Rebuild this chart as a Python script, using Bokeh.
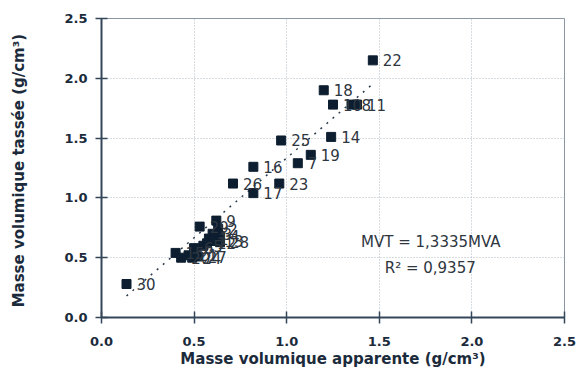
from bokeh.plotting import figure
from bokeh.models import ColumnDataSource, Label, Range1d, FixedTicker, CustomJSTickFormatter
from bokeh.core.properties import value
from bokeh.embed import file_html
from bokeh.resources import INLINE

# --- data ---
sample_ids = ["1", "2", "3", "4", "5", "6", "7", "8", "9", "10",
              "11", "12", "13", "14", "15", "16", "17", "18", "19", "20",
              "21", "22", "23", "24", "25", "26", "27", "28", "29", "30"]
mva = [0.58, 0.63, 0.60, 0.64, 0.55, 0.50, 1.06, 1.35, 0.62, 1.25,
       1.38, 0.57, 0.61, 1.24, 0.40, 0.82, 0.82, 1.20, 1.13, 0.43,
       0.47, 1.465, 0.96, 0.49, 0.97, 0.71, 0.52, 0.64, 0.53, 0.135]
mvt = [0.66, 0.74, 0.70, 0.68, 0.60, 0.58, 1.29, 1.78, 0.81, 1.78,
       1.78, 0.62, 0.64, 1.51, 0.54, 1.26, 1.04, 1.90, 1.36, 0.50,
       0.52, 2.15, 1.12, 0.50, 1.48, 1.12, 0.51, 0.63, 0.76, 0.28]
slope = 1.3335
r2_text = "0,9357"
ticks = [0.0, 0.5, 1.0, 1.5, 2.0, 2.5]

FONT = "DejaVu Sans"
DARK = "#1b2b3b"

p = figure(width=579, height=370, output_backend="svg", toolbar_location=None,
           x_range=Range1d(0, 2.5), y_range=Range1d(0, 2.5),
           min_border_left=101, min_border_right=15, min_border_top=18, min_border_bottom=53)
p.background_fill_color = "white"
p.border_fill_color = "white"
p.outline_line_color = "#8a96a2"
p.outline_line_width = 1

for ax in (p.xaxis[0], p.yaxis[0]):
    ax.ticker = FixedTicker(ticks=ticks)
    ax.formatter = CustomJSTickFormatter(code="return tick.toFixed(1);")
    ax.axis_line_color = "#34475a"
    ax.axis_line_width = 2
    ax.major_tick_line_color = "#34475a"
    ax.major_tick_line_width = 1.5
    ax.major_tick_in = 6
    ax.major_tick_out = 6
    ax.minor_tick_line_color = None
    ax.major_label_text_font = FONT
    ax.major_label_text_font_style = "bold"
    ax.major_label_text_font_size = "13px"
    ax.major_label_text_color = DARK
    ax.axis_label_text_font = FONT
    ax.axis_label_text_font_style = "bold"
    ax.axis_label_text_font_size = "15px"
    ax.axis_label_text_color = DARK

p.xaxis[0].axis_label = "Masse volumique apparente (g/cm³)"
p.yaxis[0].axis_label = "Masse volumique tassée  (g/cm³)"
p.xaxis[0].major_label_standoff = 13
p.yaxis[0].major_label_standoff = 8
p.xaxis[0].axis_label_standoff = 1
p.yaxis[0].axis_label_standoff = 33

for g in (p.xgrid[0], p.ygrid[0]):
    g.ticker = FixedTicker(ticks=ticks)
    g.grid_line_color = "#aeb8c2"
    g.grid_line_dash = "1 2"
    g.grid_line_width = 1

# trend line (through origin), spanning the data's x extent
tx = [min(mva), max(mva)]
ty = [slope * v for v in tx]
p.line(tx, ty, line_color="#2a3a4a", line_width=1.5, line_dash="2 6")

src = ColumnDataSource(dict(x=mva, y=mvt, lab=sample_ids))
p.scatter("x", "y", source=src, marker="square", size=9,
          fill_color="#0d1e30", line_color="#0d1e30")
p.text("x", "y", text="lab", source=src, x_offset=10, text_align="left",
       text_baseline="middle", text_font=value(FONT), text_font_size="15px",
       text_color="#2e3640")

p.add_layout(Label(x=1.778, y=0.635, text="MVT = " + str(slope).replace(".", ",") + "MVA",
                   text_align="center", text_baseline="middle", text_font=FONT,
                   text_font_size="15px", text_color="#2e3640"))
p.add_layout(Label(x=1.775, y=0.41, text="R² = " + r2_text,
                   text_align="center", text_baseline="middle", text_font=FONT,
                   text_font_size="15px", text_color="#2e3640"))

open("out.html", "w").write(file_html(p, INLINE))
